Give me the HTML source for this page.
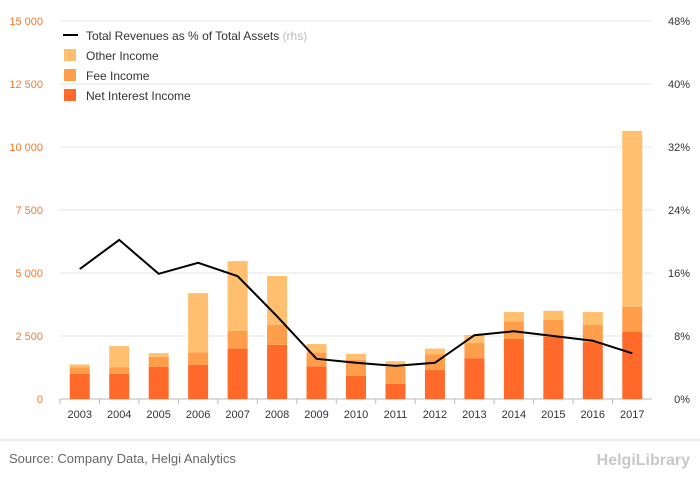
<!DOCTYPE html>
<html><head><meta charset="utf-8"><style>
body{margin:0;background:#fff;font-family:"Liberation Sans",sans-serif;}
svg text{font-family:"Liberation Sans",sans-serif;}
</style></head><body>
<svg id="c" width="700" height="483" xmlns="http://www.w3.org/2000/svg">
<g id="grid"></g><g id="bars"></g><g id="line"></g><g id="axes"></g>
<g>
<line x1="63" y1="35" x2="78" y2="35" stroke="#000" stroke-width="2"/>
<text x="86" y="40" font-size="12" fill="#333">Total Revenues as % of Total Assets <tspan fill="#bbb">(rhs)</tspan></text>
<rect x="64" y="49" width="12" height="12" fill="#ffbf6e"/>
<text x="86" y="60" font-size="12" fill="#333">Other Income</text>
<rect x="64" y="69" width="12" height="12" fill="#ff9e4a"/>
<text x="86" y="80" font-size="12" fill="#333">Fee Income</text>
<rect x="64" y="89" width="12" height="12" fill="#ff6a2b"/>
<text x="86" y="100" font-size="12" fill="#333">Net Interest Income</text>
</g>
<line x1="0" y1="440" x2="700" y2="440" stroke="#ddd"/>
<text x="9" y="463" font-size="13" fill="#666">Source: Company Data, Helgi Analytics</text>
<text x="690" y="465" font-size="16" fill="#c8c8c8" text-anchor="end" font-weight="bold">HelgiLibrary</text>
</svg>
<script>
const categories=["2003","2004","2005","2006","2007","2008","2009","2010","2011","2012","2013","2014","2015","2016","2017"];
const netInterest=[1000,1000,1270,1350,2000,2150,1300,920,600,1150,1620,2380,2460,2260,2660];
const feeIncome=[250,250,400,500,700,800,550,630,680,630,600,700,680,680,1000];
const otherIncome=[120,850,150,2350,2770,1930,330,240,220,220,320,370,360,510,6980];
const revPct=[16.5,20.2,15.9,17.3,15.6,10.5,5.1,4.6,4.2,4.6,8.1,8.6,8.0,7.4,5.8];
const leftTicks=[0,2500,5000,7500,10000,12500,15000];
const leftLabels=["0","2 500","5 000","7 500","10 000","12 500","15 000"];
const rightTicks=[0,8,16,24,32,40,48];
const rightLabels=["0%","8%","16%","24%","32%","40%","48%"];
const NS="http://www.w3.org/2000/svg";
const x0=60,x1=652,yTop=21,yBot=399;
const step=(x1-x0)/categories.length;
const xC=i=>x0+step*(i+0.5);
const yL=v=>yBot-(v/15000)*(yBot-yTop);
const yR=v=>yBot-(v/48)*(yBot-yTop);
function mk(t,a,p){const e=document.createElementNS(NS,t);for(const k in a)e.setAttribute(k,a[k]);p.appendChild(e);return e;}
const grid=document.getElementById('grid'),bars=document.getElementById('bars'),line=document.getElementById('line'),axes=document.getElementById('axes');
leftTicks.forEach((v,i)=>{
 const g=mk('line',{x1:x0,x2:x1,y1:yL(v),y2:yL(v),stroke:i==0?'#bbb':'#e6e6e6'},grid);
 
 
 const t=mk('text',{x:43,y:yL(v)+4,'font-size':11,fill:'#f47a30','text-anchor':'end'},axes);t.textContent=leftLabels[i];
 
 
});
rightTicks.forEach((v,i)=>{
 const t=mk('text',{x:690,y:yR(v)+4,'font-size':11,fill:'#333','text-anchor':'end'},axes);t.textContent=rightLabels[i];
 
 
});
const bw=20;
categories.forEach((c,i)=>{
 let base=0;
 [[netInterest,'#ff6a2b','bar-net-interest'],[feeIncome,'#ff9e4a','bar-fee'],[otherIncome,'#ffbf6e','bar-other']].forEach(([arr,col,nm])=>{
  const r=mk('rect',{x:xC(i)-bw/2,y:yL(base+arr[i]),width:bw,height:yL(base)-yL(base+arr[i]),fill:col},bars);
  
  
  base+=arr[i];
 });
 const t=mk('text',{x:xC(i),y:418,'font-size':11,fill:'#333','text-anchor':'middle'},axes);t.textContent=c;
 
 
 const tk=mk('line',{x1:x0+step*i,x2:x0+step*i,y1:yBot,y2:yBot+5,stroke:'#bbb'},axes);
 
 
});
const p=mk('polyline',{points:revPct.map((v,i)=>xC(i)+','+yR(v)).join(' '),fill:'none',stroke:'#000','stroke-width':2},line);


</script>
</body></html>
